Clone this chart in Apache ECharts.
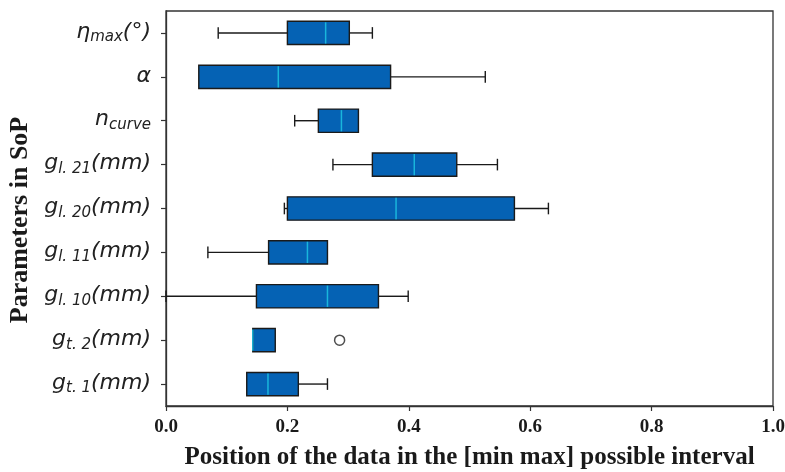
<!DOCTYPE html>
<html>
<head>
<meta charset="utf-8">
<script src="https://cdn.jsdelivr.net/npm/echarts@6/dist/echarts.min.js"></script>
<style>
  html, body { margin: 0; padding: 0; background: #fff; }
  #chart { width: 785px; height: 472px; }
</style>
</head>
<body>
<div id="chart"></div>
<script>
// categories, bottom to top (category axis starts at the bottom)
const categories = ['g_{t. 1}(mm)', 'g_{t. 2}(mm)', 'g_{l. 10}(mm)', 'g_{l. 11}(mm)',
    'g_{l. 20}(mm)', 'g_{l. 21}(mm)', 'n_{curve}', 'α', 'η_{max}(°)']

// box statistics, same order as categories
const lowWhisker  = [0.133, 0.143, 0.000, 0.069, 0.195, 0.275, 0.212, 0.054, 0.086]
const quartile1   = [0.133, 0.143, 0.149, 0.169, 0.200, 0.340, 0.251, 0.054, 0.200]
const medians     = [0.168, 0.143, 0.266, 0.233, 0.379, 0.409, 0.289, 0.185, 0.263]
const quartile3   = [0.218, 0.180, 0.350, 0.266, 0.574, 0.479, 0.317, 0.370, 0.302]
const highWhisker = [0.266, 0.180, 0.399, 0.266, 0.630, 0.546, 0.317, 0.526, 0.340]

// fliers: [value, category]
const outliers = [[0.286, 'g_{t. 2}(mm)']]

const xTicks = [0, 0.2, 0.4, 0.6, 0.8, 1.0]

const BOX_COLOR = '#0562b4'
const MEDIAN_COLOR = '#19b6dc'
const EDGE_COLOR = '#1a1a1a'

// turn 'g_{l. 21}(mm)' into rich text: italic base, subscript, suffix
function richLabel(name) {
    const m = name.match(/^([^_]+?)(?:_\{([^}]*)\})?(\(.*\))?$/)
    if (!m) return name
    let out = '{m|' + m[1] + '}'
    if (m[2]) out += '{s|' + m[2] + '}'
    if (m[3]) out += '{m|' + m[3] + '}'
    return out
}

const boxData = categories.map((c, i) =>
    [i, lowWhisker[i], quartile1[i], medians[i], quartile3[i], highWhisker[i]])

function renderBox(params, api) {
    const idx = api.value(0)
    const pLow = api.coord([api.value(1), idx])
    const pQ1 = api.coord([api.value(2), idx])
    const pMed = api.coord([api.value(3), idx])
    const pQ3 = api.coord([api.value(4), idx])
    const pHigh = api.coord([api.value(5), idx])
    const band = api.size([0, 1])[1]
    const boxH = band * 0.53
    const capH = boxH * 0.5
    const y = pMed[1]
    const lineStyle = { stroke: EDGE_COLOR, lineWidth: 1.4 }
    const children = []

    if (pLow[0] < pQ1[0]) {
        children.push({ type: 'line', shape: { x1: pLow[0], y1: y, x2: pQ1[0], y2: y }, style: lineStyle })
        children.push({ type: 'line', shape: { x1: pLow[0], y1: y - capH / 2, x2: pLow[0], y2: y + capH / 2 }, style: lineStyle })
    }
    if (pHigh[0] > pQ3[0]) {
        children.push({ type: 'line', shape: { x1: pQ3[0], y1: y, x2: pHigh[0], y2: y }, style: lineStyle })
        children.push({ type: 'line', shape: { x1: pHigh[0], y1: y - capH / 2, x2: pHigh[0], y2: y + capH / 2 }, style: lineStyle })
    }
    children.push({
        type: 'rect',
        shape: { x: pQ1[0], y: y - boxH / 2, width: pQ3[0] - pQ1[0], height: boxH },
        style: { fill: BOX_COLOR, stroke: EDGE_COLOR, lineWidth: 1.4 }
    })
    children.push({
        type: 'line',
        shape: { x1: pMed[0], y1: y - boxH / 2 + 1, x2: pMed[0], y2: y + boxH / 2 - 1 },
        style: { stroke: MEDIAN_COLOR, lineWidth: 1.5 }
    })
    return { type: 'group', children }
}

const chart = echarts.init(document.getElementById('chart'), null, { renderer: 'canvas' })

chart.setOption({
    animation: false,
    backgroundColor: '#fff',
    grid: {
        left: 166, right: 12, top: 11, bottom: 66,
        outerBoundsMode: 'none',
        containLabel: false,
        show: true, borderColor: '#333', borderWidth: 1.3, backgroundColor: 'transparent'
    },
    xAxis: {
        type: 'value',
        min: xTicks[0],
        max: xTicks[xTicks.length - 1],
        interval: 0.2,
        name: 'Position of the data in the [min max] possible interval',
        nameLocation: 'middle',
        nameGap: 39,
        nameTextStyle: { fontFamily: 'Liberation Serif', fontWeight: 'bold', fontSize: 25, color: '#1a1a1a' },
        axisLine: { show: true, lineStyle: { color: '#333', width: 1.3 } },
        axisTick: { show: true, inside: false, length: 5, lineStyle: { color: '#333', width: 1.2 } },
        axisLabel: {
            margin: 12,
            fontFamily: 'Liberation Serif', fontWeight: 'bold', fontSize: 19, color: '#1a1a1a',
            formatter: v => v.toFixed(1)
        },
        splitLine: { show: false }
    },
    yAxis: {
        type: 'category',
        data: categories,
        name: 'Parameters in SoP',
        nameLocation: 'middle',
        nameRotate: 90,
        nameGap: 132,
        nameTextStyle: { fontFamily: 'Liberation Serif', fontWeight: 'bold', fontSize: 26, color: '#1a1a1a',
                         padding: [0, 23, 0, 0] },
        axisLine: { show: true, lineStyle: { color: '#333', width: 1.3 } },
        axisTick: { show: true, inside: false, length: 5, alignWithLabel: true, lineStyle: { color: '#333', width: 1.2 } },
        axisLabel: {
            margin: 15,
            formatter: richLabel,
            rich: {
                m: { fontFamily: 'DejaVu Sans', fontStyle: 'italic', fontSize: 22, color: '#222',
                     lineHeight: 24, padding: [0, 0, 4, 0], verticalAlign: 'top' },
                s: { fontFamily: 'DejaVu Sans', fontStyle: 'italic', fontSize: 15, color: '#222',
                     lineHeight: 16, verticalAlign: 'bottom' }
            }
        },
        splitLine: { show: false }
    },
    series: [
        {
            type: 'custom',
            renderItem: renderBox,
            encode: { x: [1, 2, 3, 4, 5], y: 0 },
            data: boxData,
            z: 2
        },
        {
            type: 'scatter',
            data: outliers,
            symbol: 'circle',
            symbolSize: 10,
            itemStyle: { color: '#fff', borderColor: '#222', borderWidth: 1.5 },
            z: 3
        }
    ]
})
</script>
</body>
</html>
